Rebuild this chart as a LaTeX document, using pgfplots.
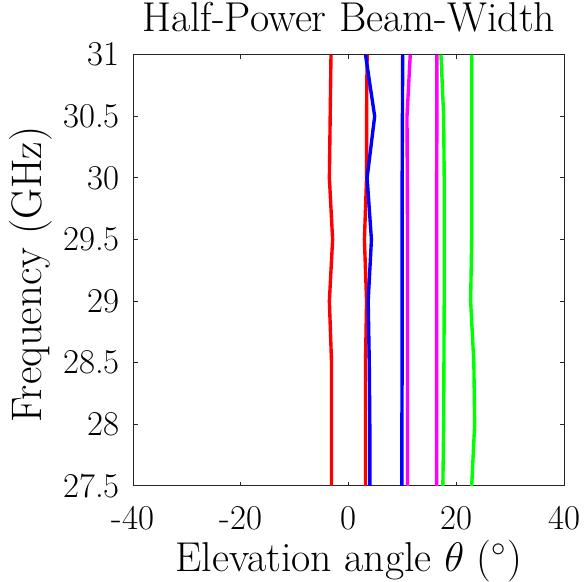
\documentclass[border=0pt]{standalone}
\usepackage{fontspec}
\usepackage{pgfplots}
\pgfplotsset{compat=1.18}
\definecolor{axgray}{rgb}{0.15,0.15,0.15}
\definecolor{cred}{rgb}{1,0,0}
\definecolor{cblue}{rgb}{0,0,1}
\definecolor{cmag}{rgb}{1,0,1}
\definecolor{cgreen}{rgb}{0,1,0}
\begin{document}%
\begin{tikzpicture}[font=\fontsize{17.5}{21}\selectfont]
\begin{axis}[
  scale only axis,
  width=217pt, height=217pt,
  xmin=-40, xmax=40, ymin=27.5, ymax=31,
  xtick={-40,-20,0,20,40},
  xticklabels={-40,-20,0,20,40},
  ytick={27.5,28,28.5,29,29.5,30,30.5,31},
  yticklabels={27.5,28,28.5,29,29.5,30,30.5,31},
  tick align=inside,
  major tick length=2.2pt,
  axis line style={axgray, line width=0.5pt},
  tick style={axgray, line width=0.5pt},
  every tick label/.append style={font=\fontsize{17.5}{21}\selectfont, text=black},
  xticklabel style={anchor=base, yshift=-22pt},
  yticklabel style={anchor=east, inner sep=0pt, xshift=-6.5pt},
  clip=false,
  xlabel={Elevation angle $\theta$ ($^\circ$)},
  xlabel style={at={(axis description cs:0.5,-0.198)}, anchor=base, inner sep=0pt, font=\fontsize{21}{25}\selectfont},
  ylabel={Frequency (GHz)},
  ylabel style={at={(axis description cs:-0.212,0.49)}, anchor=base, inner sep=0pt, font=\fontsize{21.5}{26}\selectfont},
  every axis plot/.append style={line width=1.7pt},
]
% red
\addplot[cred] coordinates {(-3.2,27.5) (-3.2,28) (-3.2,28.5) (-3.6,29) (-3.0,29.5) (-3.6,30) (-3.45,30.5) (-3.3,31)};
\addplot[cred] coordinates {(3.1,27.5) (3.1,28) (3.1,28.5) (3.3,29) (2.9,29.5) (3.3,30) (3.3,30.5) (3.4,31)};
% blue
\addplot[cblue] coordinates {(3.9,27.5) (3.9,28) (3.8,28.5) (3.6,29) (4.2,29.5) (3.4,30) (4.8,30.5) (3.1,31)};
\addplot[cblue] coordinates {(9.85,27.5) (9.85,28) (9.9,28.5) (9.9,29) (9.9,29.5) (9.9,30) (9.95,30.5) (10.0,31)};
% magenta
\addplot[cmag] coordinates {(10.9,27.5) (10.9,28) (10.9,28.5) (10.9,29) (10.9,29.5) (10.85,30) (10.8,30.5) (11.4,31)};
\addplot[cmag] coordinates {(16.3,27.5) (16.3,28) (16.3,28.5) (16.3,29) (16.3,29.5) (16.3,30) (16.35,30.5) (16.35,31)};
% green
\addplot[cgreen] coordinates {(17.45,27.5) (17.6,28) (17.65,28.5) (17.7,29) (17.7,29.5) (17.7,30) (17.6,30.5) (17.1,31)};
\addplot[cgreen] coordinates {(22.8,27.5) (23.35,28) (23.2,28.5) (22.6,29) (22.8,29.5) (22.8,30) (22.8,30.5) (22.8,31)};
\node[anchor=base, inner sep=0pt, font=\fontsize{21}{25}\selectfont] at (axis description cs:0.5,1.053) {Half-Power Beam-Width};
\path (axis description cs:-0.30876,-0.21889) rectangle (axis description cs:1.04378,1.12673);
\end{axis}
\end{tikzpicture}%
\end{document}
